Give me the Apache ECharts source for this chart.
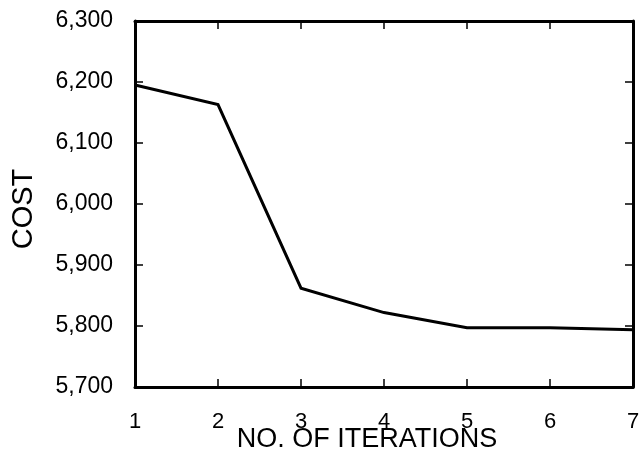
<!DOCTYPE html>
<html>
<head>
<meta charset="utf-8">
<script src="https://cdn.jsdelivr.net/npm/echarts@6/dist/echarts.min.js"></script>
<style>
  html, body { margin: 0; padding: 0; background: #fff; }
  #chart { width: 642px; height: 459px; }
</style>
</head>
<body>
<div id="chart"></div>
<script>
// Cost reached after each optimisation iteration
const iterations = [1, 2, 3, 4, 5, 6, 7];
const costs = [6195, 6163, 5862, 5822, 5797, 5797, 5794];

const yMin = 5700, yMax = 6300, yStep = 100;
const xMin = 1, xMax = 7;

const xTitle = 'NO. OF ITERATIONS';
const yTitle = 'COST';

const FONT = '"Liberation Sans", Arial, Helvetica, sans-serif';
const INK = '#000';

const chart = echarts.init(document.getElementById('chart'), null, { renderer: 'canvas' });

const frameAxisLine = { show: true, onZero: false, lineStyle: { color: INK, width: 3 } };
const inTicks = { show: true, inside: true, length: 8, lineStyle: { color: INK, width: 1.5 } };

chart.setOption({
  animation: false,
  backgroundColor: '#fff',
  grid: {
    left: 135, top: 21, width: 498, height: 366,
    containLabel: false, outerBoundsMode: 'none'
  },
  graphic: [
    {
      type: 'text', x: 367, y: 440,
      style: {
        text: xTitle, x: 0, y: 0,
        align: 'center', verticalAlign: 'middle',
        font: '27px ' + FONT, fill: INK
      }
    }
  ],
  xAxis: [
    {
      type: 'value', min: xMin, max: xMax, interval: 1, position: 'bottom',
      axisLine: frameAxisLine, axisTick: inTicks,
      axisLabel: { fontFamily: FONT, fontSize: 22, color: INK, margin: 0, padding: [24, 0, 0, 0] },
      splitLine: { show: false }
    },
    {
      type: 'value', min: xMin, max: xMax, interval: 1, position: 'top',
      axisLine: frameAxisLine, axisTick: inTicks,
      axisLabel: { show: false }, splitLine: { show: false }
    }
  ],
  yAxis: [
    {
      type: 'value', min: yMin, max: yMax, interval: yStep, position: 'left',
      name: yTitle, nameLocation: 'middle', nameGap: 97, nameRotate: 90,
      nameMoveOverlap: false,
      nameTextStyle: { fontFamily: FONT, fontSize: 29, color: INK, padding: [0, 10, 0, 0] },
      axisLine: frameAxisLine, axisTick: inTicks,
      axisLabel: {
        fontFamily: FONT, fontSize: 23, color: INK, margin: 22,
        formatter: v => v.toLocaleString('en-US')
      },
      splitLine: { show: false }
    },
    {
      type: 'value', min: yMin, max: yMax, interval: yStep, position: 'right',
      axisLine: frameAxisLine, axisTick: inTicks,
      axisLabel: { show: false }, splitLine: { show: false }
    }
  ],
  series: [
    {
      type: 'line',
      data: iterations.map((x, i) => [x, costs[i]]),
      showSymbol: false,
      lineStyle: { color: INK, width: 3, join: 'miter' },
      z: 3
    }
  ]
});
</script>
</body>
</html>
